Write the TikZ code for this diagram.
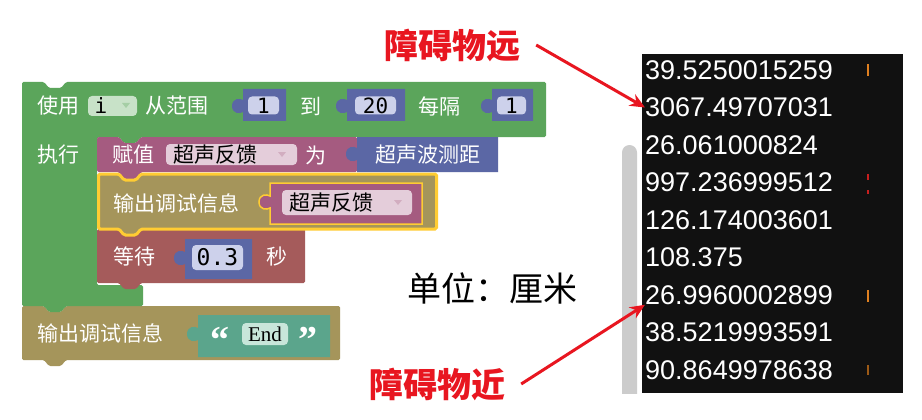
\documentclass[tikz,border=0pt]{standalone}
\usepackage{fontspec}
\setmainfont{Noto Sans CJK SC}
\newfontfamily\digitfont{Liberation Sans}
\newfontfamily\codefont{DejaVu Sans Mono}
\newfontfamily\quotefont{Liberation Serif}
\usetikzlibrary{arrows.meta}

\definecolor{loopgreen}{RGB}{91,165,91}
\definecolor{greenfield}{RGB}{200,226,200}
\definecolor{varpurple}{RGB}{165,91,128}
\definecolor{pinkfield}{RGB}{228,205,218}
\definecolor{mathblue}{RGB}{91,103,165}
\definecolor{bluefield}{RGB}{205,209,235}
\definecolor{debugolive}{RGB}{165,149,91}
\definecolor{waitred}{RGB}{165,91,91}
\definecolor{textteal}{RGB}{91,165,140}
\definecolor{tealfield}{RGB}{200,230,218}
\definecolor{hlyellow}{RGB}{255,204,51}
\definecolor{consoleblack}{RGB}{17,17,17}
\definecolor{scrollgray}{RGB}{204,204,204}
\definecolor{notered}{RGB}{232,22,32}
\definecolor{markorange}{RGB}{224,128,32}
\definecolor{markred}{RGB}{200,30,30}

\begin{document}
\begin{tikzpicture}[
  x=1pt, y=-1pt,
  lbl/.style={inner sep=0pt, text=white, font=\fontsize{21}{21}\selectfont},
  field/.style={inner sep=0pt, rounded corners=4pt},
  fieldtxt/.style={inner sep=0pt, text=black, font=\fontsize{21}{21}\selectfont},
  numtxt/.style={inner sep=0pt, text=black, font=\codefont\fontsize{21}{21}\selectfont},
  output/.style={inner sep=0pt, anchor=west, text=white, font=\digitfont\fontsize{27}{27}\selectfont},
  note/.style={inner sep=0pt, text=notered, font=\bfseries\fontsize{34}{34}\selectfont},
  pointer/.style={draw=notered, line width=3pt, -{Stealth[length=15pt, width=13pt]}},
  block/.style={rounded corners=1.5pt}
]
  \useasboundingbox (0,0) rectangle (922,420);
  \fill[white] (0,0) rectangle (922,420);

  % Loop block and the last debug block.
  \fill[debugolive, block] (22,306) -- (44,306) -- (49,312) -- (61,312) -- (66,306) -- (340,306)
    -- (340,360) -- (66,360) -- (61,366) -- (49,366) -- (44,360) -- (22,360) -- cycle;
  \fill[loopgreen, block] (22,82) -- (44,82) -- (49,88) -- (61,88) -- (66,82) -- (546,82)
    -- (546,137) -- (141,137) -- (136,143) -- (124,143) -- (119,137) -- (97,137)
    -- (97,285) -- (143,285) -- (143,306) -- (66,306) -- (61,312) -- (49,312) -- (44,306)
    -- (22,306) -- cycle;

  % Statement blocks inside the loop.
  \fill[varpurple, block] (97,137) -- (119,137) -- (124,143) -- (136,143) -- (141,137) -- (357,137)
    -- (357,172) -- (141,172) -- (136,179) -- (124,179) -- (119,172) -- (97,172) -- cycle;
  \fill[waitred, block] (97,229) -- (305,229) -- (305,283) -- (141,283) -- (136,289) -- (124,289)
    -- (119,283) -- (97,283) -- cycle;
  \filldraw[fill=debugolive, draw=hlyellow, line width=3pt, block] (98.5,174) -- (119,174) -- (124,180)
    -- (136,180) -- (141,174) -- (436.5,174) -- (436.5,229) -- (141,229) -- (136,235) -- (124,235)
    -- (119,229) -- (98.5,229) -- cycle;

  % First row of the loop.
  \node[lbl, anchor=west] (use) at (37,106) {使用};
  \node[field, fill=greenfield, minimum width=49pt, minimum height=20pt] (ivar) at (112.5,106) {};
  \node[numtxt] (itxt) at (101,106) {i};
  \fill[loopgreen!55!white] (122,103) -- (130,103) -- (126,108) -- cycle;
  \node[lbl, anchor=west] (range) at (145,106) {从范围};
  \begin{scope}[shift={(243,89)}]
    \fill[mathblue] (0,0) -- (43,0) -- (43,32) -- (0,32) -- (0,23) .. controls (-3,25) and (-11,25) .. (-11,17)
      .. controls (-11,9) and (-3,9) .. (0,11) -- cycle;
    \node[field, fill=bluefield, minimum width=31pt, minimum height=18pt, numtxt] (fromval) at (20.5,16.5) {1};
  \end{scope}
  \node[lbl] (to) at (311,106) {到};
  \begin{scope}[shift={(347,89)}]
    \fill[mathblue] (0,0) -- (58,0) -- (58,32) -- (0,32) -- (0,23) .. controls (-3,25) and (-11,25) .. (-11,17)
      .. controls (-11,9) and (-3,9) .. (0,11) -- cycle;
    \node[field, fill=bluefield, minimum width=41pt, minimum height=18pt, numtxt] (toval) at (28.5,16.5) {20};
  \end{scope}
  \node[lbl, anchor=west] (every) at (418,106) {每隔};
  \begin{scope}[shift={(492,89)}]
    \fill[mathblue] (0,0) -- (41,0) -- (41,32) -- (0,32) -- (0,23) .. controls (-3,25) and (-11,25) .. (-11,17)
      .. controls (-11,9) and (-3,9) .. (0,11) -- cycle;
    \node[field, fill=bluefield, minimum width=29pt, minimum height=18pt, numtxt] (stepval) at (19.5,16.5) {1};
  \end{scope}

  % Assignment row.
  \node[lbl, anchor=west] (exec) at (37,155) {执行};
  \node[lbl, anchor=west] (assign) at (112,155) {赋值};
  \node[field, fill=pinkfield, minimum width=131pt, minimum height=21pt] (setvar) at (231.5,154.5) {};
  \node[fieldtxt, anchor=west] (setvartxt) at (173,155) {超声反馈};
  \fill[varpurple!50!white] (278,152) -- (286,152) -- (282,157) -- cycle;
  \node[lbl] (as) at (316,155) {为};
  \begin{scope}[shift={(357,137)}]
    \fill[mathblue] (0,0) -- (141,0) -- (141,35) -- (0,35) -- (0,23) .. controls (-3,25) and (-11,25) .. (-11,17)
      .. controls (-11,9) and (-3,9) .. (0,11) -- cycle;
    \node[lbl] (sensor) at (70.5,18) {超声波测距};
  \end{scope}

  % Debug output row.
  \node[lbl, anchor=west] (print) at (113,203) {输出调试信息};
  \begin{scope}[shift={(270,183)}]
    \filldraw[fill=varpurple, draw=hlyellow, line width=1.5pt] (0,0) -- (152,0) -- (152,41) -- (0,41) -- (0,25)
      .. controls (-3,27) and (-11,27) .. (-11,19) .. controls (-11,11) and (-3,11) .. (0,13) -- cycle;
    \node[field, fill=pinkfield, minimum width=130pt, minimum height=25pt] (getvar) at (77,19.5) {};
    \node[fieldtxt, anchor=west] (getvartxt) at (19,20) {超声反馈};
    \fill[varpurple!50!white] (124,17) -- (132,17) -- (128,22) -- cycle;
  \end{scope}

  % Wait row.
  \node[lbl, anchor=west] (wait) at (113,256) {等待};
  \begin{scope}[shift={(185,239)}]
    \fill[mathblue] (0,0) -- (67,0) -- (67,40) -- (0,40) -- (0,25) .. controls (-3,27) and (-11,27) .. (-11,19)
      .. controls (-11,11) and (-3,11) .. (0,13) -- cycle;
    \node[field, fill=bluefield, minimum width=51pt, minimum height=25pt, numtxt, font=\codefont\fontsize{23}{23}\selectfont] (waitval) at (32.5,18.5) {0.3};
  \end{scope}
  \node[lbl] (sec) at (277,256) {秒};

  % Last debug output.
  \node[lbl, anchor=west] (printend) at (37,333) {输出调试信息};
  \begin{scope}[shift={(198,315)}]
    \fill[textteal] (0,0) -- (132,0) -- (132,42) -- (0,42) -- (0,25) .. controls (-3,27) and (-11,27) .. (-11,19)
      .. controls (-11,11) and (-3,11) .. (0,13) -- cycle;
    \node[inner sep=0pt, anchor=base, text=white, font=\quotefont\bfseries\fontsize{38}{38}\selectfont] (lquote) at (22,37) {“};
    \node[field, fill=tealfield, minimum width=46pt, minimum height=22pt, inner sep=0pt, font=\quotefont\fontsize{21}{21}\selectfont] (endtxt) at (67,19) {End};
    \node[inner sep=0pt, anchor=base, text=white, font=\quotefont\bfseries\fontsize{38}{38}\selectfont] (rquote) at (110,37) {”};
  \end{scope}

  % Console output.
  \begin{scope}
    \clip (600,0) rectangle (641,393);
    \fill[scrollgray, rounded corners=7.5pt] (622,145) rectangle (637,410);
  \end{scope}
  \fill[consoleblack] (642,54) rectangle (903,393);
  \foreach \val [count=\i] in {39.5250015259, 3067.49707031, 26.061000824, 997.236999512,
      126.174003601, 108.375, 26.9960002899, 38.5219993591, 90.8649978638}
    \node[output] (n\i) at (645,32.5+37.5*\i) {\val};
  \fill[markorange] (867,64) rectangle (869,76);
  \fill[markred] (867,174) rectangle (869,180);
  \fill[markred] (867,190) rectangle (869,194);
  \fill[markorange] (867,290) rectangle (869,302);
  \fill[markorange!70!black] (867,365) rectangle (869,375);

  % Notes.
  \node[inner sep=0pt, font=\fontsize{34}{34}\selectfont] (unit) at (492,288) {单位：厘米};
  \node[note] (far) at (452,45) {障碍物远};
  \node[note] (near) at (437,384) {障碍物近};
  \draw[pointer] ([xshift=16pt]far.east) -- (n2.west);
  \draw[pointer] ([xshift=16pt]near.east) -- (n7.south west);
\end{tikzpicture}
\end{document}
